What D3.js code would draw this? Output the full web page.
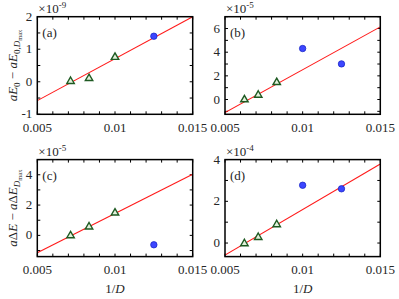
<!DOCTYPE html>
<html>
<head>
<meta charset="utf-8">
<script src="https://cdn.jsdelivr.net/npm/d3@7"></script>
<style>
  body { margin: 0; background: #fff; }
  svg, svg text { font-family: "Liberation Serif", "Times New Roman", Times, serif; }
</style>
</head>
<body>
<div id="chart"></div>
<script>
// 1/D values
var triX_ac = [0.00714, 0.00833, 0.0100];
var circX_ac = [0.0125];
var triX_bd = [0.00625, 0.00714, 0.00833];
var circX_bd = [0.0100, 0.0125];
var fitX = [0.005, 0.015];

// panel values (in units of the exponent shown above each axes)
var triY_a = [0.03, 0.12, 0.77];
var circY_a = [1.40];
var fitY_a = [-0.58, 2.00];

var triY_b = [0.03, 0.42, 1.49];
var circY_b = [4.31, 3.01];
var fitY_b = [-1.10, 6.14];

var triY_c = [0.02, 0.60, 1.52];
var circY_c = [-0.62];
var fitY_c = [-1.15, 4.04];

var triY_d = [0.00, 0.30, 0.91];
var circY_d = [2.77, 2.60];
var fitY_d = [-0.58, 3.79];

var xTickLabels = [0.005, 0.01, 0.015];
var xMinorTicks = d3.range(0.005, 0.01501, 0.001);

var svgWidth = 399, svgHeight = 299;
var FONT = '"Liberation Serif", "Times New Roman", Times, serif';

var svg = d3.select('#chart')
        .append('svg')
        .attr('width', svgWidth)
        .attr('height', svgHeight)
        .attr('font-family', FONT);

var panels = [
  { id: 'a', label: '(a)', exp: '-9', left: 37.3, right: 192.7, top: 16.7, bottom: 114.3,
    ydom: [-1, 2], yticks: [-1, 0, 1, 2], ystep: 0.5,
    triX: triX_ac, triY: triY_a, circX: circX_ac, circY: circY_a, fitY: fitY_a, ylab: 'E0', xlab: false },
  { id: 'b', label: '(b)', exp: '-5', left: 225, right: 380.3, top: 16.7, bottom: 114.3,
    ydom: [-1.25, 7], yticks: [0, 2, 4, 6], ystep: 1,
    triX: triX_bd, triY: triY_b, circX: circX_bd, circY: circY_b, fitY: fitY_b, ylab: null, xlab: false },
  { id: 'c', label: '(c)', exp: '-5', left: 37.3, right: 192.7, top: 159.6, bottom: 256.6,
    ydom: [-1.4, 5], yticks: [0, 2, 4], ystep: 1,
    triX: triX_ac, triY: triY_c, circX: circX_ac, circY: circY_c, fitY: fitY_c, ylab: 'dE', xlab: true },
  { id: 'd', label: '(d)', exp: '-4', left: 225, right: 380.3, top: 159.6, bottom: 256.6,
    ydom: [-0.65, 4], yticks: [0, 2, 4], ystep: 1,
    triX: triX_bd, triY: triY_d, circX: circX_bd, circY: circY_d, fitY: fitY_d, ylab: null, xlab: true }
];

var fmtX = function (d) { return String(+d.toFixed(3)); };

panels.forEach(function (p) {
  var xScale = d3.scaleLinear().domain([0.005, 0.015]).range([p.left, p.right]);
  var yScale = d3.scaleLinear().domain(p.ydom).range([p.bottom, p.top]);
  var g = svg.append('g');

  // clip for the fit line
  svg.append('clipPath').attr('id', 'clip-' + p.id)
    .append('rect')
    .attr('x', p.left).attr('y', p.top)
    .attr('width', p.right - p.left).attr('height', p.bottom - p.top);

  // ticks, inward on all four sides
  var yMinor = d3.range(Math.ceil(p.ydom[0] / p.ystep) * p.ystep, p.ydom[1] + 1e-9, p.ystep);
  var tk = 3;
  g.selectAll('.xt').data(xMinorTicks).enter().append('path')
    .attr('d', function (d) {
      var x = xScale(d);
      return 'M' + x + ',' + p.bottom + 'v' + (-tk) + 'M' + x + ',' + p.top + 'v' + tk;
    })
    .attr('stroke', '#000').attr('stroke-width', 1);
  g.selectAll('.yt').data(yMinor).enter().append('path')
    .attr('d', function (d) {
      var y = yScale(d);
      return 'M' + p.left + ',' + y + 'h' + tk + 'M' + p.right + ',' + y + 'h' + (-tk);
    })
    .attr('stroke', '#000').attr('stroke-width', 1);

  // fit line
  g.append('path')
    .datum(fitX.map(function (x, i) { return [x, p.fitY[i]]; }))
    .attr('clip-path', 'url(#clip-' + p.id + ')')
    .attr('fill', 'none')
    .attr('stroke', '#ff1a1a')
    .attr('stroke-width', 1.1)
    .attr('d', d3.line().x(function (d) { return xScale(d[0]); }).y(function (d) { return yScale(d[1]); }));

  // triangles
  var tri = d3.symbol().type(d3.symbolTriangle).size(24);
  g.selectAll('.tri').data(p.triX.map(function (x, i) { return [x, p.triY[i]]; }))
    .enter().append('path')
    .attr('d', tri)
    .attr('transform', function (d) { return 'translate(' + xScale(d[0]) + ',' + (yScale(d[1]) + 0.5) + ')'; })
    .attr('fill', '#e2f1dc')
    .attr('stroke', '#1e5a22')
    .attr('stroke-width', 1.4);

  // circles
  g.selectAll('.circ').data(p.circX.map(function (x, i) { return [x, p.circY[i]]; }))
    .enter().append('circle')
    .attr('cx', function (d) { return xScale(d[0]); })
    .attr('cy', function (d) { return yScale(d[1]); })
    .attr('r', 3.2)
    .attr('fill', '#3c46ff')
    .attr('stroke', '#1c28c8')
    .attr('stroke-width', 0.8);

  // frame
  g.append('rect')
    .attr('x', p.left).attr('y', p.top)
    .attr('width', p.right - p.left).attr('height', p.bottom - p.top)
    .attr('fill', 'none').attr('stroke', '#000').attr('stroke-width', 1.5);

  // x tick labels
  g.selectAll('.xl').data(xTickLabels).enter().append('text')
    .attr('x', function (d) { return xScale(d); })
    .attr('y', p.bottom + 17.5)
    .attr('text-anchor', 'middle')
    .attr('font-size', 13)
    .attr('fill', '#262626')
    .text(fmtX);

  // y tick labels
  g.selectAll('.yl').data(p.yticks).enter().append('text')
    .attr('x', p.left - 5)
    .attr('y', function (d) { return yScale(d) + 4; })
    .attr('text-anchor', 'end')
    .attr('font-size', 13)
    .attr('fill', '#262626')
    .text(function (d) { return d; });

  // exponent
  var ex = g.append('text').attr('x', p.left + 1).attr('y', p.top - 3.5)
    .attr('font-size', 13).attr('fill', '#262626');
  ex.append('tspan').text('\u00d710');
  ex.append('tspan').attr('dy', -5).attr('font-size', 9).text(p.exp);

  // panel label
  g.append('text').attr('x', p.left + 5).attr('y', p.top + 20)
    .attr('font-size', 13).attr('fill', '#262626').text(p.label);

  // x axis label
  if (p.xlab) {
    var xl = g.append('text')
      .attr('x', (p.left + p.right) / 2).attr('y', p.bottom + 36)
      .attr('text-anchor', 'middle').attr('font-size', 13).attr('fill', '#262626');
    xl.append('tspan').text('1/');
    xl.append('tspan').attr('font-style', 'italic').text('D');
  }

  // y axis label
  if (p.ylab) {
    var yl = g.append('text')
      .attr('transform', 'translate(17,' + ((p.top + p.bottom) / 2) + ') rotate(-90)')
      .attr('text-anchor', 'middle').attr('font-size', 13).attr('fill', '#262626');
    var it = function (s) { return yl.append('tspan').attr('font-style', 'italic').text(s); };
    var rm = function (s) { return yl.append('tspan').text(s); };
    if (p.ylab === 'E0') {
      it('aE');
      rm('0').attr('font-size', 9).attr('dy', 3);
      rm(' \u2212 ').attr('dy', -3);
      it('aE');
      rm('0,').attr('font-size', 9).attr('dy', 3);
      it('D').attr('font-size', 9);
      rm('max').attr('font-size', 6.5).attr('dy', 2);
    } else {
      it('a');
      rm('\u0394');
      it('E');
      rm(' \u2212 ');
      it('a');
      rm('\u0394');
      it('E');
      it('D').attr('font-size', 9).attr('dy', 3);
      rm('max').attr('font-size', 6.5).attr('dy', 2);
    }
  }
});
</script>
</body>
</html>
